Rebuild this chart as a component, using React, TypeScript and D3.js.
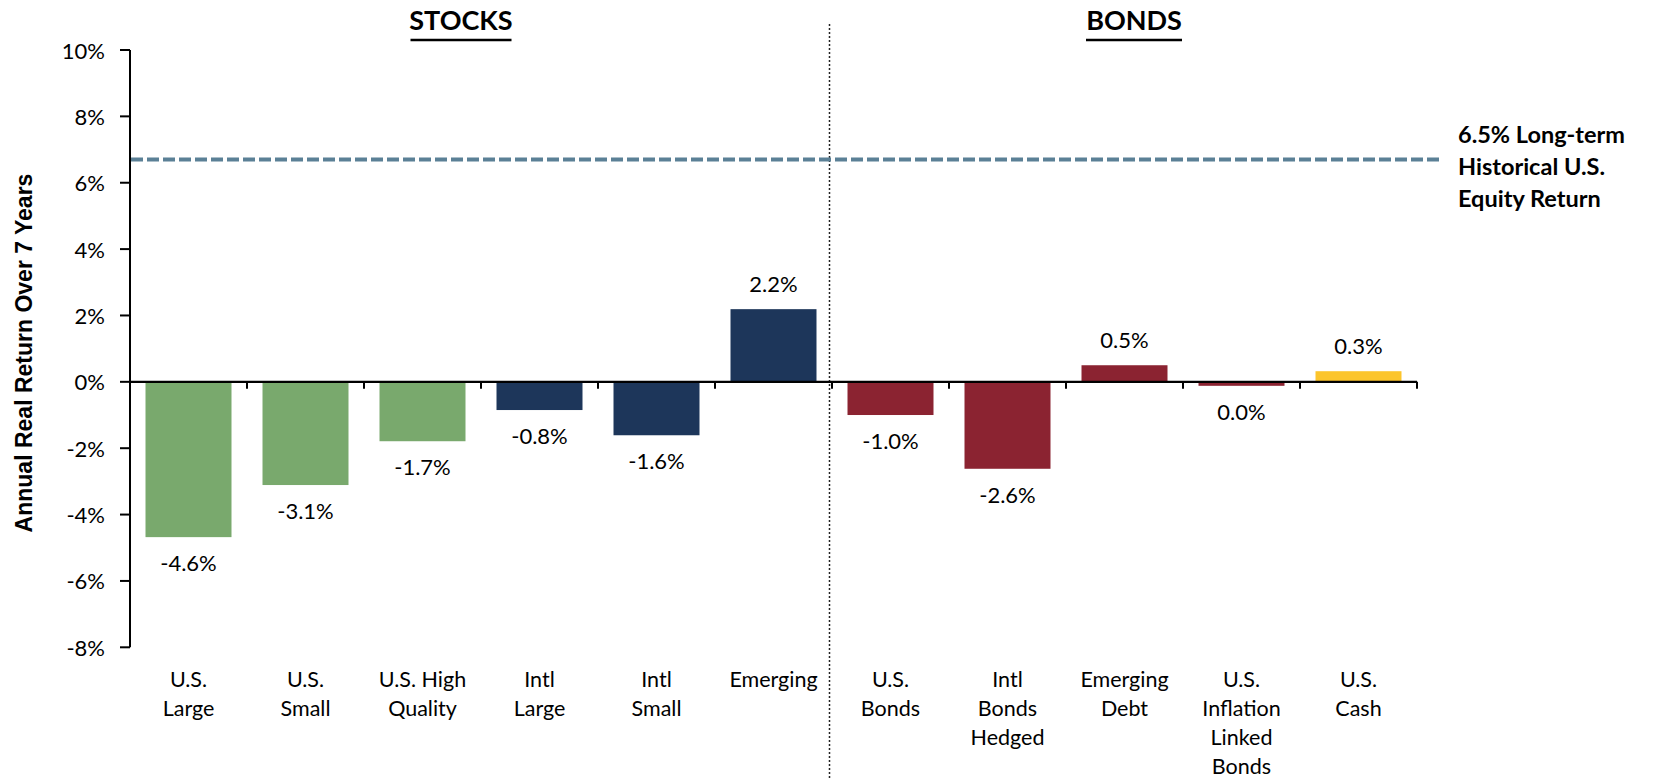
import React from "react";
import * as d3 from "d3";

const categories = [
  "U.S. Large", "U.S. Small", "U.S. High Quality", "Intl Large", "Intl Small", "Emerging",
  "U.S. Bonds", "Intl Bonds Hedged", "Emerging Debt", "U.S. Inflation Linked Bonds", "U.S. Cash",
];
const categoryLines = [
  ["U.S.", "Large"], ["U.S.", "Small"], ["U.S. High", "Quality"], ["Intl", "Large"], ["Intl", "Small"],
  ["Emerging"], ["U.S.", "Bonds"], ["Intl", "Bonds", "Hedged"], ["Emerging", "Debt"],
  ["U.S.", "Inflation", "Linked", "Bonds"], ["U.S.", "Cash"],
];
const values = [-4.68, -3.11, -1.79, -0.85, -1.61, 2.19, -1.0, -2.62, 0.5, -0.12, 0.32];
const valueLabels = ["-4.6%", "-3.1%", "-1.7%", "-0.8%", "-1.6%", "2.2%", "-1.0%", "-2.6%", "0.5%", "0.0%", "0.3%"];
const groupOf = ["us", "us", "us", "intl", "intl", "intl", "bond", "bond", "bond", "bond", "cash"];
const groupColors: Record<string, string> = { us: "#79a96d", intl: "#1d365a", bond: "#8b2331", cash: "#fcc52c" };
const yTicks = [-8, -6, -4, -2, 0, 2, 4, 6, 8, 10];
const benchmark = 6.7;
const benchmarkLines = ["6.5% Long-term", "Historical U.S.", "Equity Return"];
const sectionLabels = ["STOCKS", "BONDS"];
const yTitle = "Annual Real Return Over 7 Years";

const FONT = "Lato, 'Open Sans', sans-serif";

export default function App() {
  const W = 1655, H = 778;
  const x0 = 130, x1 = 1417;
  const y = d3.scaleLinear().domain([-8, 10]).range([647.3, 50]);
  const x = d3.scaleBand<string>().domain(categories).range([x0, x1]).paddingInner(0.265).paddingOuter(0.1325);
  const step = x.step();
  const zeroY = y(0);
  const dividerX = x0 + 6 * step - 2.5;
  const headerX = [461, 1134];

  return (
    <svg width={W} height={H} style={{ position: "absolute", left: 0, top: 0, background: "#fff" }} fontFamily={FONT}>
      {/* headers */}
      {sectionLabels.map((s, i) => (
        <g key={s}>
          <text x={headerX[i]} y={29.5} textAnchor="middle" fontSize={27} fontWeight="bold" fill="#000">{s}</text>
        </g>
      ))}
      {sectionLabels.map((s, i) => {
        const w = s.length === 6 ? 101 : 96;
        return <line key={"u" + s} x1={headerX[i] - w / 2} x2={headerX[i] + w / 2} y1={40} y2={40} stroke="#000" strokeWidth={2.5} />;
      })}

      {/* divider */}
      <line x1={dividerX} x2={dividerX} y1={24} y2={H} stroke="#222" strokeWidth={1.5} strokeDasharray="2,2" />

      {/* bars */}
      {categories.map((c, i) => {
        const v = values[i];
        const top = Math.min(y(v), zeroY);
        const h = Math.abs(y(v) - zeroY);
        return <rect key={c} x={x(c)!} y={top} width={x.bandwidth()} height={h} fill={groupColors[groupOf[i]]} />;
      })}

      {/* benchmark */}
      <line x1={x0 + 1} x2={1439} y1={y(benchmark)} y2={y(benchmark)} stroke="#5b8096" strokeWidth={4} strokeDasharray="12,4" />
      {benchmarkLines.map((t, i) => (
        <text key={t} x={1458} y={143 + i * 32} fontSize={23.5} fontWeight="bold" fill="#000">{t}</text>
      ))}

      {/* y axis */}
      <line x1={x0} x2={x0} y1={y(10)} y2={y(-8)} stroke="#000" strokeWidth={2} />
      {yTicks.map(t => (
        <g key={t}>
          <line x1={x0 - 10} x2={x0} y1={y(t)} y2={y(t)} stroke="#000" strokeWidth={2} />
          <text x={105} y={y(t) + 8.5} textAnchor="end" fontSize={22} fill="#000">{t + "%"}</text>
        </g>
      ))}
      <text transform="translate(31.5,353) rotate(-90)" textAnchor="middle" fontSize={23} fontWeight="bold"
        fontFamily="'Liberation Sans', Arial, sans-serif" fill="#000">{yTitle}</text>

      {/* x axis */}
      <line x1={x0} x2={x1} y1={zeroY} y2={zeroY} stroke="#000" strokeWidth={2.2} />
      {d3.range(1, categories.length + 1).map(i => (
        <line key={i} x1={x0 + i * step} x2={x0 + i * step} y1={zeroY} y2={zeroY + 7} stroke="#000" strokeWidth={2} />
      ))}

      {/* value labels */}
      {categories.map((c, i) => {
        const v = values[i];
        const cx = x(c)! + x.bandwidth() / 2;
        const ly = v >= 0 ? y(v) - 25 + 8 : y(v) + 26 + 8;
        return <text key={"v" + c} x={cx} y={ly} textAnchor="middle" fontSize={22} fill="#000">{valueLabels[i]}</text>;
      })}

      {/* category labels */}
      {categories.map((c, i) => {
        const cx = x(c)! + x.bandwidth() / 2;
        return (
          <text key={"c" + c} x={cx} textAnchor="middle" fontSize={21.5} fill="#000">
            {categoryLines[i].map((l, j) => (
              <tspan key={j} x={cx} y={687 + j * 29}>{l}</tspan>
            ))}
          </text>
        );
      })}
    </svg>
  );
}
